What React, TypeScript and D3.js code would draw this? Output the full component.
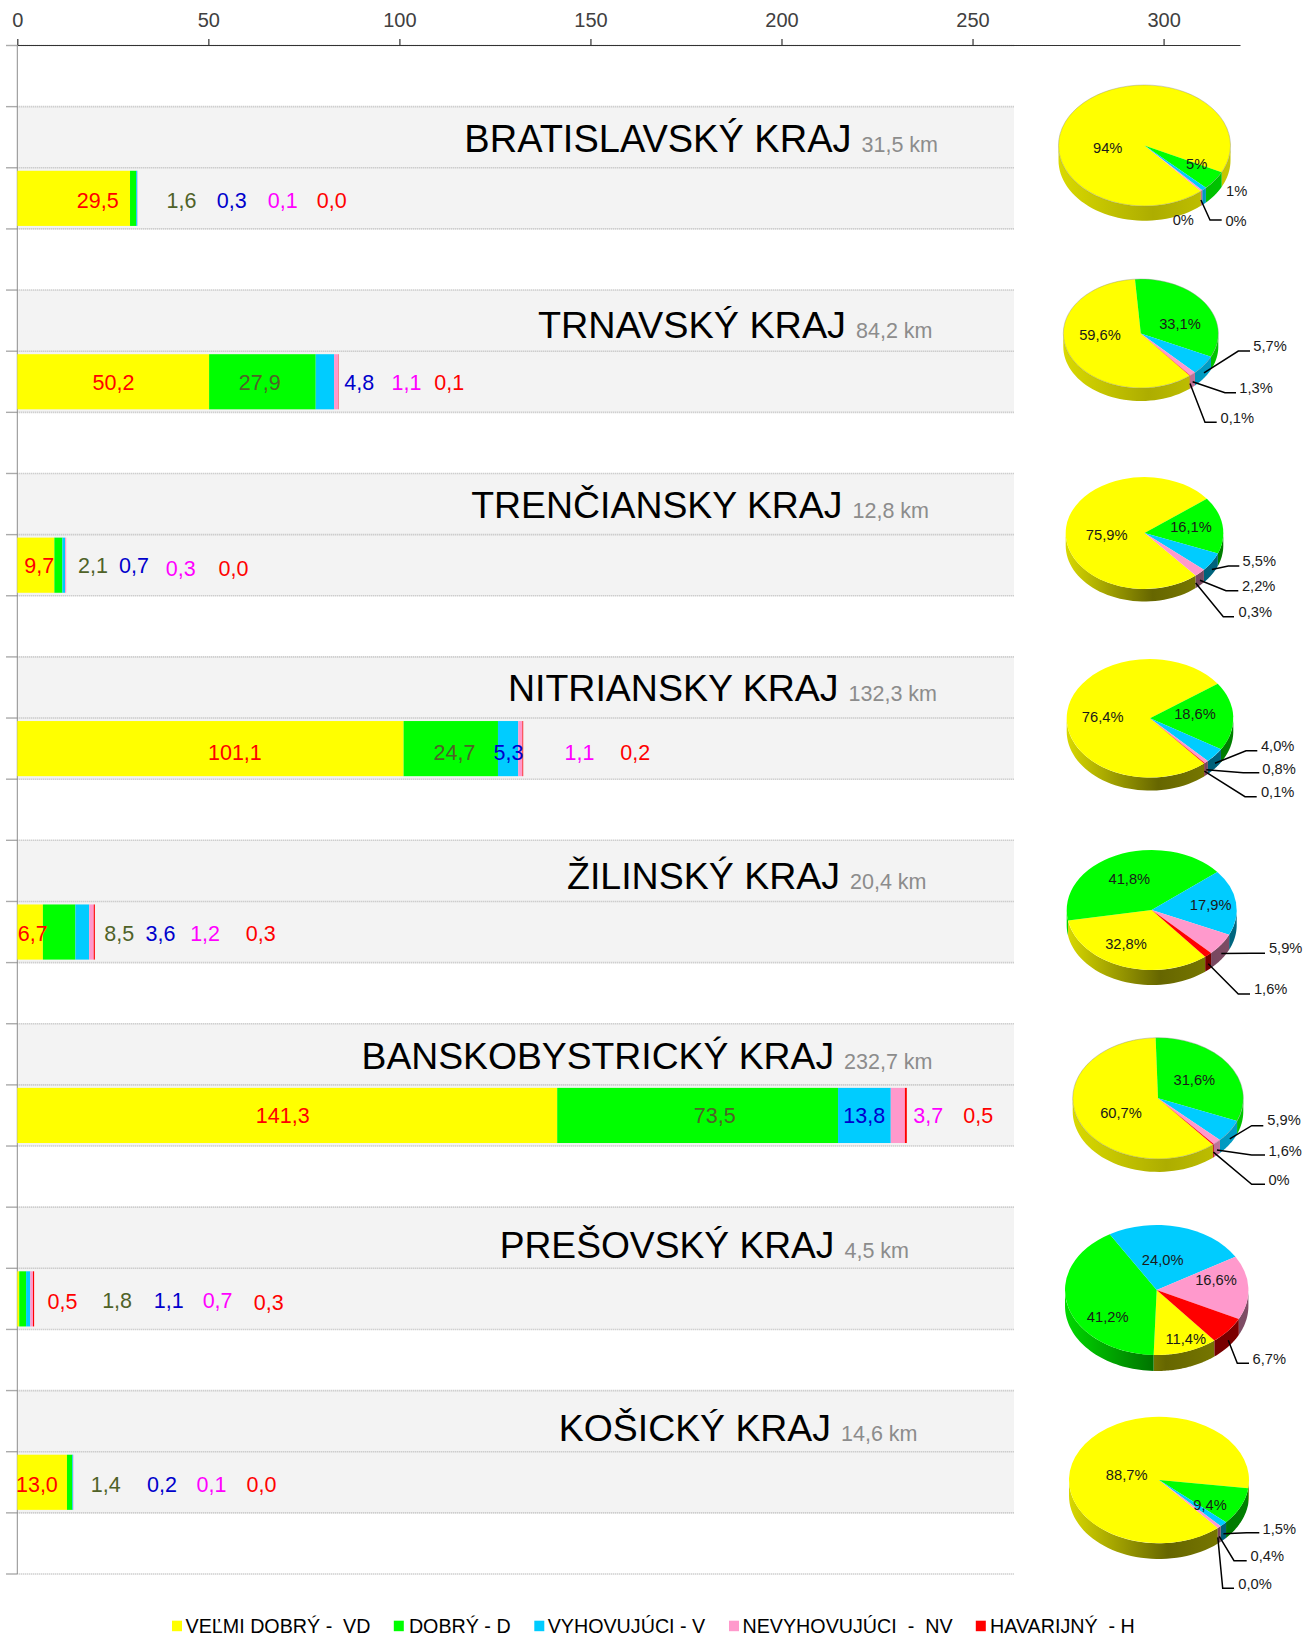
import React, { useEffect, useRef } from "react";
import * as d3 from "d3";

const width = 1311;
const height = 1633;
const fontName = "'Liberation Sans', Arial, sans-serif";

// road lengths in km per region
const regions = ["BRATISLAVSKÝ KRAJ", "TRNAVSKÝ KRAJ", "TRENČIANSKY KRAJ", "NITRIANSKY KRAJ", "ŽILINSKÝ KRAJ", "BANSKOBYSTRICKÝ KRAJ", "PREŠOVSKÝ KRAJ", "KOŠICKÝ KRAJ"];
const totals = ["31,5 km", "84,2 km", "12,8 km", "132,3 km", "20,4 km", "232,7 km", "4,5 km", "14,6 km"];
const veryGood = [29.5, 50.2, 9.7, 101.1, 6.7, 141.3, 0.5, 13.0];
const good = [1.6, 27.9, 2.1, 24.7, 8.5, 73.5, 1.8, 1.4];
const fair = [0.3, 4.8, 0.7, 5.3, 3.6, 13.8, 1.1, 0.2];
const poor = [0.1, 1.1, 0.3, 1.1, 1.2, 3.7, 0.7, 0.1];
const failing = [0.0, 0.1, 0.0, 0.2, 0.3, 0.5, 0.3, 0.0];
const seriesValues = [veryGood, good, fair, poor, failing];

const legendNames = ["VEĽMI DOBRÝ -  VD", "DOBRÝ - D", "VYHOVUJÚCI - V", "NEVYHOVUJÚCI  -  NV", "HAVARIJNÝ  - H"];
const seriesKeys = ["vd", "d", "v", "nv", "h"];
const seriesColors = ["#ffff00", "#00ff00", "#00ccff", "#ff99cc", "#ff0000"];
const labelColors = ["#ff0000", "#4f6228", "#0000cc", "#ff00ff", "#ff0000"];
const xTicks = [0, 50, 100, 150, 200, 250, 300];

const pieLabels = [
  ["94%", "5%", "1%", "0%", "0%"],
  ["59,6%", "33,1%", "5,7%", "1,3%", "0,1%"],
  ["75,9%", "16,1%", "5,5%", "2,2%", "0,3%"],
  ["76,4%", "18,6%", "4,0%", "0,8%", "0,1%"],
  ["32,8%", "41,8%", "17,9%", "5,9%", "1,6%"],
  ["60,7%", "31,6%", "5,9%", "1,6%", "0%"],
  ["11,4%", "41,2%", "24,0%", "16,6%", "6,7%"],
  ["88,7%", "9,4%", "1,5%", "0,4%", "0,0%"],
];

// layout only: hand placed text in the original chart
const titleRight = [938, 932.5, 929, 937, 926.5, 932.5, 909, 917.5];
const titleBase = [151.5, 338, 518, 701, 889, 1069.4, 1257.6, 1441];
const titleSize = [38, 37.8, 37.4, 37.5, 37.5, 37.3, 37.2, 37.4];
const valueLabelX = [
  [97.7, 181.5, 231.7, 282.8, 331.7],
  [113.5, 259.8, 359.2, 406.5, 449.3],
  [39.3, 92.9, 134, 180.8, 233.5],
  [234.9, 454.5, 508.5, 579.5, 635.3],
  [32.8, 119.2, 160.4, 205.1, 260.8],
  [282.7, 714.8, 864.3, 928.3, 978.3],
  [62.5, 117.1, 168.7, 217.6, 268.7],
  [36.9, 105.7, 161.9, 211.4, 261.4],
];
const valueLabelY = [
  [200.7, 200.7, 200.7, 200.7, 200.7],
  [382.2, 382.2, 382.2, 382.2, 382.2],
  [565.7, 565.7, 565.7, 568.3, 568.3],
  [752.3, 752.3, 752.3, 752.3, 752.3],
  [933, 933, 933, 933, 933],
  [1115.3, 1115.3, 1115.3, 1115.3, 1115.3],
  [1301, 1300.5, 1300.5, 1300.5, 1302],
  [1484, 1484, 1484, 1484, 1484],
];
const pieBoxes = [
  { cx: 1144.5, cy: 145.5, rx: 86, ry: 60.5, depth: 14.7, start: 139, dark: 0.68, rim: true },
  { cx: 1140.8, cy: 333.5, rx: 77.5, ry: 54.5, depth: 13, start: 140.8, dark: 0.68, rim: true },
  { cx: 1144.5, cy: 533, rx: 78.8, ry: 56, depth: 12.5, start: 139.5, dark: 0.4, rim: false },
  { cx: 1150, cy: 718.3, rx: 83.3, ry: 59.3, depth: 13, start: 139.5, dark: 0.4, rim: false },
  { cx: 1151.7, cy: 910, rx: 85, ry: 60, depth: 15, start: 141, dark: 0.4, rim: false },
  { cx: 1158, cy: 1098.3, rx: 85.3, ry: 60.6, depth: 13, start: 139.9, dark: 0.68, rim: true },
  { cx: 1156.7, cy: 1290, rx: 91.7, ry: 65, depth: 16, start: 141, dark: 0.4, rim: false },
  { cx: 1159, cy: 1480, rx: 90, ry: 63.3, depth: 15.7, start: 139.2, dark: 0.4, rim: false },
];
const pieLabelPos = [
  [[1107.7, 148], [1196.7, 164], [1236.7, 191], [1183.3, 220], [1236, 220.5]],
  [[1100, 335], [1180, 323.3], [1270, 345.5], [1256, 387.5], [1237.3, 417.5]],
  [[1106.7, 535], [1191, 526.5], [1259.3, 561], [1258.7, 586], [1255.3, 612.2]],
  [[1102.7, 716.7], [1195, 714], [1277.7, 746], [1279, 768.3], [1277.7, 791.5]],
  [[1126, 944], [1129.3, 879], [1210.7, 905], [1285.7, 947.8], [1270.7, 988.8]],
  [[1121, 1112.8], [1194.3, 1080], [1284, 1120], [1285.2, 1150.7], [1279, 1180]],
  [[1185.7, 1338.8], [1107.7, 1316.7], [1162.7, 1260], [1216, 1280], [1269.3, 1358.5]],
  [[1126.7, 1475], [1210, 1505], [1279.3, 1528.3], [1267.3, 1556], [1255, 1584]],
];
// [elbow x, y, end x] of each leader line, null when the label has none
const leaders = [
  [null, null, null, null, [1210, 220, 1221.7]],
  [null, null, [1238.3, 351, 1250], [1225, 392.7, 1236], [1205, 422.3, 1216.7]],
  [null, null, [1228.3, 566, 1239.3], [1226, 590.7, 1238.3], [1223.3, 616.7, 1234]],
  [null, null, [1246, 750.7, 1257.3], [1243.3, 772.7, 1259.3], [1245, 796.7, 1256.7]],
  [null, null, null, [1251.7, 953.3, 1265], [1238.3, 994, 1250]],
  [null, null, [1251.7, 1125.7, 1263.3], [1251.7, 1155, 1265], [1251.7, 1184.3, 1265]],
  [null, null, null, null, [1237.3, 1363.3, 1249]],
  [null, null, [1246.7, 1532.7, 1259.3], [1234, 1560.7, 1246.7], [1222.7, 1588.3, 1234]],
];
const legendSwatchX = [172, 393.8, 534.3, 729, 975.8];
const legendTextX = [185.6, 408.9, 547.7, 742.5, 990];

function App() {
  const ref = useRef<SVGSVGElement>(null);

  useEffect(() => {
    const svg = d3.select(ref.current);
    svg.selectAll("*").remove();

    const x = d3.scaleLinear().domain([0, 320]).range([17.3, 1240]);
    const plotRight = 1014;
    // 3 rows per region plus an empty one at the bottom
    const y = d3.scaleBand<number>().domain(d3.range(25)).range([45.5, 1574]);
    const row = y.bandwidth();

    const rows = regions.map((name, i) => {
      const o: any = { name };
      seriesKeys.forEach((k, s) => (o[k] = seriesValues[s][i]));
      return o;
    });
    const stacked = d3.stack().keys(seriesKeys)(rows);

    // shaded blocks behind title and bar
    svg.append("g").selectAll("rect").data(regions).join("rect")
      .attr("x", x(0))
      .attr("y", (_, i) => y(3 * i + 1))
      .attr("width", plotRight - x(0))
      .attr("height", row * 2)
      .attr("fill", "#f3f3f3");

    // row lines
    const lines = d3.range(26).map((i) => 45.5 + i * row);
    svg.append("g").selectAll("line").data(lines).join("line")
      .attr("x1", x(0)).attr("x2", plotRight)
      .attr("y1", (d) => d).attr("y2", (d) => d)
      .attr("stroke", "#bcbcbc").attr("stroke-width", 1.6).attr("stroke-dasharray", "1 1");
    svg.append("g").selectAll("line").data(lines).join("line")
      .attr("x1", 6).attr("x2", x(0))
      .attr("y1", (d) => d).attr("y2", (d) => d)
      .attr("stroke", "#ababab").attr("stroke-width", 1.4);
    svg.append("line")
      .attr("x1", x(0)).attr("x2", x(0)).attr("y1", 45.5).attr("y2", 1574)
      .attr("stroke", "#8c8c8c");

    // stacked bars
    const barInset = 3;
    stacked.forEach((layer, s) => {
      svg.append("g").attr("fill", seriesColors[s]).selectAll("rect").data(layer).join("rect")
        .attr("x", (d) => x(d[0]))
        .attr("y", (_, i) => y(3 * i + 2) + barInset)
        .attr("width", (d) => x(d[1]) - x(d[0]))
        .attr("height", row - barInset * 2);
    });

    // top axis
    const axis = d3.axisTop(x).tickValues(xTicks).tickSizeInner(6).tickSizeOuter(0).tickPadding(12.5).tickFormat(d3.format("d"));
    const gAxis = svg.append("g").attr("transform", "translate(0,45)").call(axis);
    gAxis.selectAll("path, line").attr("stroke", "#333").attr("stroke-width", 1.2);
    gAxis.selectAll("text").attr("font-family", fontName).attr("font-size", 20).attr("fill", "#404040");

    // region titles
    regions.forEach((name, i) => {
      const t = svg.append("text")
        .attr("x", titleRight[i]).attr("y", titleBase[i])
        .attr("text-anchor", "end").attr("font-family", fontName);
      t.append("tspan").attr("font-size", titleSize[i]).attr("fill", "#000").text(name);
      t.append("tspan").attr("font-size", 21.5).attr("fill", "#8c8c8c").attr("dx", 10).text(totals[i]);
    });

    // value labels
    regions.forEach((_, i) => {
      seriesValues.forEach((vals, s) => {
        svg.append("text")
          .attr("x", valueLabelX[i][s]).attr("y", valueLabelY[i][s])
          .attr("dy", "0.36em").attr("text-anchor", "middle")
          .attr("font-family", fontName).attr("font-size", 21.5)
          .attr("fill", labelColors[s])
          .text(vals[i].toFixed(1).replace(".", ","));
      });
    });

    // pies
    const defs = svg.append("defs");
    const rad = Math.PI / 180;
    regions.forEach((_, i) => {
      const box = pieBoxes[i];
      const g = svg.append("g");
      const start = box.start * rad;
      const slices = d3.pie<number>().sort(null)
        .startAngle(start).endAngle(start + 2 * Math.PI)(seriesValues.map((v) => v[i]));

      const px = (a: number) => box.cx + box.rx * Math.sin(a);
      const py = (a: number) => box.cy - box.ry * Math.cos(a);

      // side wall, only the front half of the rim shows
      slices.forEach((sl, s) => {
        const id = `wall-${i}-${s}`;
        const grad = defs.append("linearGradient").attr("id", id)
          .attr("gradientUnits", "userSpaceOnUse")
          .attr("x1", box.cx - box.rx).attr("x2", box.cx + box.rx).attr("y1", 0).attr("y2", 0);
        const shade = d3.interpolateRgb("#000", seriesColors[s]);
        [[0, 0.85], [0.55, box.dark], [1, box.dark + 0.1]].forEach(([o, f]) =>
          grad.append("stop").attr("offset", o).attr("stop-color", shade(f)));

        [[90, 270], [450, 630]].forEach(([lo, hi]) => {
          const a0 = Math.max(sl.startAngle, lo * rad);
          const a1 = Math.min(sl.endAngle, hi * rad);
          if (a1 <= a0) return;
          const steps = d3.range(0, 41).map((k) => a0 + ((a1 - a0) * k) / 40);
          const pts = steps.map((a) => [px(a), py(a)]);
          const low = steps.slice().reverse().map((a) => [px(a), py(a) + box.depth]);
          g.append("path")
            .attr("d", d3.line()([...pts, ...low]) + "Z")
            .attr("fill", `url(#${id})`);
        });
      });

      // top face
      const arc = d3.arc<any>().innerRadius(0).outerRadius(box.rx);
      const top = g.append("g")
        .attr("transform", `translate(${box.cx},${box.cy}) scale(1,${box.ry / box.rx})`);
      top.selectAll("path").data(slices).join("path")
        .attr("d", arc)
        .attr("fill", (_, s) => seriesColors[s]);
      if (box.rim) {
        top.append("circle").attr("r", box.rx)
          .attr("fill", "none").attr("stroke", "#8a8a8a").attr("stroke-opacity", 0.6).attr("stroke-width", 0.8);
      }

      // leaders and percent labels
      slices.forEach((sl, s) => {
        const lead = leaders[i][s];
        if (lead) {
          const mid = (sl.startAngle + sl.endAngle) / 2;
          const pts: [number, number][] = [
            [px(mid), py(mid) + box.depth * 0.6],
            [lead[0], lead[1]],
            [lead[2], lead[1]],
          ];
          g.append("path").attr("d", d3.line()(pts))
            .attr("fill", "none").attr("stroke", "#000").attr("stroke-width", 1.5);
        }
        g.append("text")
          .attr("x", pieLabelPos[i][s][0]).attr("y", pieLabelPos[i][s][1])
          .attr("dy", "0.36em").attr("text-anchor", "middle")
          .attr("font-family", fontName).attr("font-size", 14.7)
          .attr("fill", "#1a1a1a")
          .text(pieLabels[i][s]);
      });
    });

    // legend, runs off the bottom edge like the original
    legendNames.forEach((name, s) => {
      svg.append("rect")
        .attr("x", legendSwatchX[s]).attr("y", 1620.7)
        .attr("width", 10).attr("height", 10.5)
        .attr("fill", seriesColors[s]);
      svg.append("text")
        .attr("x", legendTextX[s]).attr("y", 1632.5)
        .attr("font-family", fontName).attr("font-size", 19.7)
        .attr("fill", "#000")
        .style("white-space", "pre")
        .text(name);
    });
  }, []);

  return (
    <svg
      ref={ref}
      width={width}
      height={height}
      style={{ position: "absolute", left: 0, top: 0, display: "block", background: "#fff" }}
    />
  );
}

export default App;
